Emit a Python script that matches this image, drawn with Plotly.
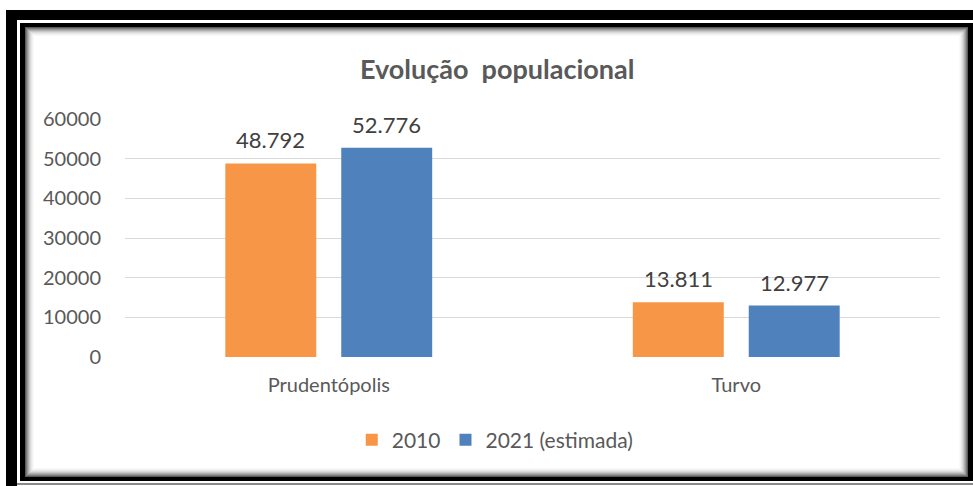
import plotly.graph_objects as go

# Data
municipios = ["Prudentópolis", "Turvo"]
pop_2010 = [48792, 13811]
pop_2021 = [52776, 12977]
series_names = ["2010", "2021 (estimada)"]
series_colors = ["#F79646", "#4F81BD"]
y_ticks = [0, 10000, 20000, 30000, 40000, 50000, 60000]

W, H = 973, 486
FONT = "Lato"
GREY = "#595959"


def px(x):
    return x / W


def py(y):
    return 1 - y / H


def br(n):
    return f"{n:,}".replace(",", ".")


fig = go.Figure()
for name, vals, col in zip(series_names, [pop_2010, pop_2021], series_colors):
    fig.add_trace(go.Bar(x=municipios, y=vals, name=name, marker_color=col,
                         marker_line_width=0))

# value labels above each bar (Brazilian thousands separator)
half_slot = 58
for k, vals in enumerate([pop_2010, pop_2021]):
    for m, v in zip(municipios, vals):
        fig.add_annotation(x=m, y=v, xref="x", yref="y", text=br(v),
                           showarrow=False, xshift=(-1 if k == 0 else 1) * half_slot,
                           yanchor="bottom", yshift=8,
                           font=dict(family=FONT, size=22, color="#404040"))

shapes = []
# outer black frame (top and left bands)
shapes.append(dict(type="rect", x0=px(6), x1=px(W + 5), y0=py(10), y1=py(20),
                   fillcolor="black", line_width=0))
shapes.append(dict(type="rect", x0=px(6), x1=px(17), y0=py(10), y1=py(H + 5),
                   fillcolor="black", line_width=0))
# thin grey line along the bottom
shapes.append(dict(type="rect", x0=px(17), x1=px(W + 5), y0=py(483), y1=py(485),
                   fillcolor="#8a8a8a", line_width=0))
# inner black border
shapes.append(dict(type="rect", x0=px(20), x1=px(W + 5), y0=py(23), y1=py(481),
                   fillcolor="black", line_width=0))
# inner shadow: nested rectangles fading to white
shades = ["#5a5a5a", "#7a7a7a", "#979797", "#b0b0b0", "#c7c7c7",
          "#dadada", "#e8e8e8", "#f2f2f2", "#f9f9f9", "#ffffff"]
for i, c in enumerate(shades):
    shapes.append(dict(type="rect", x0=px(25 + i), x1=px(968 - i),
                       y0=py(27 + i), y1=py(477 - i),
                       fillcolor=c, line_width=0))
for s in shapes:
    s.update(xref="paper", yref="paper", layer="below")

fig.update_layout(
    width=W, height=H,
    margin=dict(l=0, r=0, t=0, b=0, pad=0, autoexpand=False),
    paper_bgcolor="white", plot_bgcolor="rgba(0,0,0,0)",
    shapes=shapes,
    barmode="group", bargap=0.431, bargroupgap=0.2155,
    title=dict(text="<b>Evolução  populacional</b>", x=0.511, xanchor="center",
               y=py(70), yanchor="middle", automargin=False,
               font=dict(family=FONT, size=27, color=GREY)),
    xaxis=dict(domain=[px(125), px(940)], showgrid=False, showline=False,
               ticks="", ticklabelstandoff=14, automargin=False,
               tickfont=dict(family=FONT, size=20, color=GREY)),
    yaxis=dict(domain=[py(357), py(119)], range=[0, 60000], tickvals=y_ticks,
               tickformat="d", showgrid=True, gridcolor="#d9d9d9", gridwidth=1,
               zeroline=False, showline=False, ticks="", ticklabelstandoff=23,
               automargin=False,
               tickfont=dict(family=FONT, size=20, color=GREY)),
    legend=dict(orientation="h", x=0.509, xanchor="center", y=py(440),
                yanchor="middle", bgcolor="rgba(0,0,0,0)",
                font=dict(family=FONT, size=21, color=GREY), itemwidth=30),
    showlegend=True,
)

fig.write_html("out.html")
